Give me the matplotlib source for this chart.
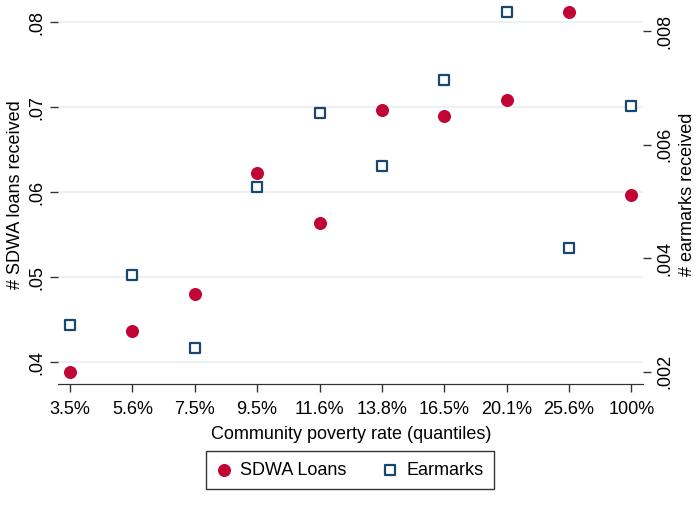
import matplotlib.pyplot as plt

plt.rcParams['font.family'] = ['Liberation Sans', 'DejaVu Sans']

# quantile labels on the x axis
quantiles = ["3.5%", "5.6%", "7.5%", "9.5%", "11.6%", "13.8%", "16.5%", "20.1%", "25.6%", "100%"]
sdwa_loans = [0.0388, 0.0436, 0.0480, 0.0623, 0.0564, 0.0697, 0.0690, 0.0708, 0.0812, 0.0596]
earmarks = [0.00282, 0.0037, 0.00241, 0.00525, 0.00655, 0.00563, 0.00714, 0.00834, 0.00418, 0.00668]

red = "#c10534"
navy = "#1a476f"
fs = 13

fig = plt.figure(figsize=(7, 5.11), dpi=100)
ax = fig.add_axes([0.083, 0.2485, 0.836, 0.7415])
ax2 = ax.twinx()

xs = list(range(len(quantiles)))
p1 = ax.scatter(xs, sdwa_loans, s=70, color=red, zorder=3, label="SDWA Loans")
p2 = ax2.scatter(xs, earmarks, s=55, marker="s", facecolor="white", edgecolor=navy,
                 linewidths=1.6, zorder=3, label="Earmarks")

ax.set_xlim(-0.19, 9.19)
ax.set_ylim(0.03741, 0.0820)
ax2.set_ylim(0.00178, 0.00846)

ax.set_yticks([0.04, 0.05, 0.06, 0.07, 0.08])
ax.set_yticklabels([".04", ".05", ".06", ".07", ".08"], rotation=90, va="center")
ax2.set_yticks([0.002, 0.004, 0.006, 0.008])
ax2.set_yticklabels([".002", ".004", ".006", ".008"], rotation=90, va="center")
ax.set_xticks(xs)
ax.set_xticklabels(quantiles)

ax.grid(axis="y", color="#eaf2f3", linewidth=1.5, zorder=0)
ax.set_axisbelow(True)

for a in (ax, ax2):
    a.spines["top"].set_visible(False)
    a.spines["left"].set_visible(False)
    a.spines["right"].set_visible(False)
    a.spines["bottom"].set_color("#333333")
    a.tick_params(labelsize=fs, length=6, color="#333333", width=1)
ax.tick_params(axis="x", pad=6)

ax.set_xlabel("Community poverty rate (quantiles)", fontsize=fs, labelpad=6)
ax.set_ylabel("# SDWA loans received", fontsize=fs, labelpad=3)
ax2.set_ylabel("# earmarks received", fontsize=fs, labelpad=4)

leg = fig.legend(handles=[p1, p2], loc="center", bbox_to_anchor=(0.5, 0.08), ncol=2,
                 fontsize=fs, frameon=True, fancybox=False, edgecolor="black",
                 handlelength=0.8, handletextpad=0.5, columnspacing=2.0, borderpad=0.6)
leg.get_frame().set_linewidth(1)

fig.savefig("out.png", dpi=100)
